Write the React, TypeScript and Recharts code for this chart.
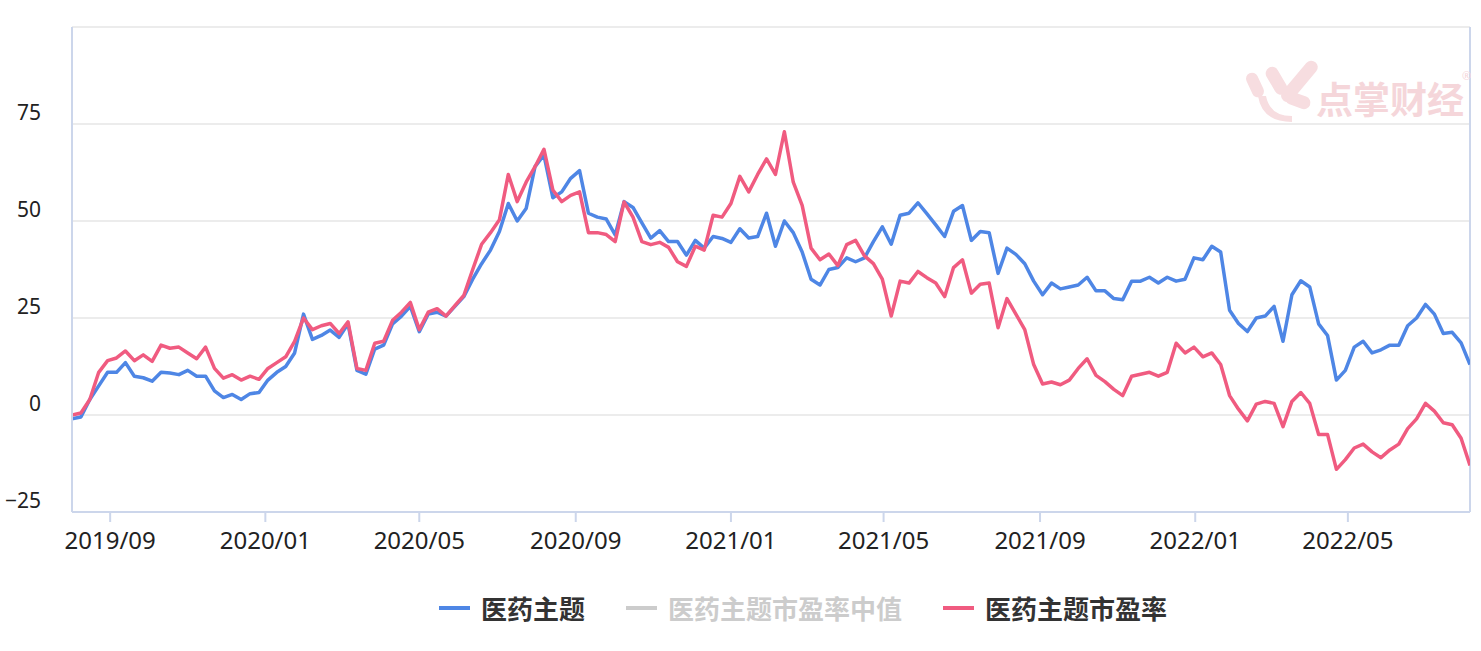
import { LineChart, Line, XAxis, YAxis, CartesianGrid, ReferenceLine } from "recharts";

// weekly samples, first point on 2019-08-02
const START = Date.UTC(2019, 7, 2);
const WEEK = 7 * 86400000;

const themeIndex = [
  -1, -0.5, 4, 7.5, 11, 11, 13.5, 10, 9.6, 8.7,
  11, 10.8, 10.4, 11.5, 10, 10, 6.2, 4.5, 5.3, 4,
  5.5, 5.8, 9, 11, 12.5, 16, 26, 19.5, 20.5, 21.9,
  20, 23.5, 11.5, 10.5, 17, 18, 23.5, 25.5, 28, 21.5,
  26, 26.5, 25.5, 28, 30.5, 35, 39, 42.5, 47.3, 54.5,
  50, 53.2, 64, 67, 56, 57.5, 61, 63, 52, 51,
  50.5, 46.4, 55, 53.5, 49.5, 45.6, 47.5, 44.7, 44.7, 41.2,
  45, 43, 46, 45.5, 44.5, 48, 45.6, 46, 52, 43.5,
  50, 47, 42, 35, 33.5, 37.5, 38, 40.5, 39.5, 40.5,
  44.7, 48.5, 44, 51.5, 52, 54.7, 51.9, 49, 46, 52.5,
  54, 45, 47.3, 47, 36.5, 43, 41.4, 39, 34.5, 31,
  34, 32.5, 33, 33.5, 35.5, 32, 32, 30, 29.7, 34.5,
  34.5, 35.5, 34, 35.5, 34.5, 35, 40.5, 40, 43.5, 42,
  27, 23.6, 21.5, 25, 25.5, 28, 19, 31, 34.6, 33,
  23.5, 20.5, 9, 11.5, 17.5, 19, 16, 16.8, 18, 18,
  23, 25, 28.5, 26, 21, 21.3, 18.6, 13,
];

const themePE = [
  0, 0.5, 4, 11, 14, 14.7, 16.5, 14, 15.5, 13.8,
  18, 17.2, 17.5, 16, 14.5, 17.5, 12, 9.5, 10.4, 9,
  10, 9.2, 12, 13.5, 15, 19, 25, 22, 23, 23.6,
  21, 24, 12, 11.5, 18.5, 19, 24.4, 26.5, 29, 22,
  26.5, 27.4, 25.5, 28.2, 30.8, 37.5, 44, 47, 50.3, 62,
  55, 60, 64, 68.5, 58, 55, 56.6, 57.5, 47, 47,
  46.5, 44.7, 54.9, 51, 44.7, 43.9, 44.5, 43.2, 39.5, 38.3,
  43.5, 42.5, 51.5, 51, 54.5, 61.5, 57.5, 62, 66, 62,
  73, 60, 54, 43, 40, 41.5, 38.5, 43.9, 45, 41,
  39, 35, 25.5, 34.5, 34, 37, 35.4, 34, 30.5, 38,
  40, 31.4, 33.7, 34, 22.5, 30, 26, 22, 13, 8,
  8.5, 7.8, 9, 12, 14.5, 10.2, 8.6, 6.6, 5, 10,
  10.5, 11, 10, 11, 18.5, 16, 17.5, 15, 16, 13,
  5, 1.5, -1.5, 2.8, 3.5, 3, -3, 3.5, 5.8, 3,
  -5, -5, -14, -11.5, -8.5, -7.5, -9.5, -11, -9, -7.5,
  -3.5, -1, 3, 1, -2, -2.5, -6, -13,
];

const monthTicks = ["2019/09", "2020/01", "2020/05", "2020/09", "2021/01", "2021/05", "2021/09", "2022/01", "2022/05"];
const yTicks = [-25, 0, 25, 50, 75, 100];

const legendItems = [
  { name: "医药主题", color: "#4e86e5", active: true },
  { name: "医药主题市盈率中值", color: "#cccccc", active: false },
  { name: "医药主题市盈率", color: "#f05b80", active: true },
];

const data = themeIndex.map((v, i) => ({ t: START + i * WEEK, index: v, pe: themePE[i] }));
const END = data[data.length - 1].t;

const tickTimes = monthTicks.map((s) => {
  const [y, m] = s.split("/").map(Number);
  return Date.UTC(y, m - 1, 1);
});

const fmtMonth = (t: number) => {
  const d = new Date(t);
  return `${d.getUTCFullYear()}/${String(d.getUTCMonth() + 1).padStart(2, "0")}`;
};

const YTick = (props: any) => {
  const { x, y, payload } = props;
  if (payload.value === 100) return null;
  const label = payload.value < 0 ? `\u2212${Math.abs(payload.value)}` : String(payload.value);
  return (
    <text x={x} y={y} dy={-4} textAnchor="end" fill="#222" fontSize={21} fontFamily="Noto Sans">
      {label}
    </text>
  );
};

const Watermark = () => (
  <svg width={1481} height={651} style={{ position: "absolute", left: 0, top: 0, pointerEvents: "none" }}>
    <g fill="#f7dde0">
      <rect x={1249} y={72} width={12} height={26} rx={6} transform="rotate(-25 1255 85)" />
      <rect x={1270} y={66} width={13} height={30} rx={6.5} transform="rotate(-30 1276 81)" />
      <rect x={1293} y={56} width={13} height={50} rx={6.5} transform="rotate(40 1299 81)" />
      <rect x={1285} y={94} width={26} height={13} rx={6.5} transform="rotate(20 1298 100)" />
      <path d="M1258 96 Q1262 122 1292 122 L1292 116 Q1270 116 1266 96 Z" />
    </g>
    <text x={1316} y={114} fontSize={37} fontWeight="bold" fill="#f5d6da" fontFamily="Noto Sans CJK SC">
      点掌财经
    </text>
    <text x={1462} y={80} fontSize={11} fill="#f5d6da" fontFamily="Noto Sans">®</text>
  </svg>
);

const Legend = () => (
  <div
    style={{
      position: "absolute",
      left: 439,
      top: 592,
      display: "flex",
      alignItems: "center",
      fontFamily: "'Noto Sans CJK SC', sans-serif",
      fontWeight: "bold",
      fontSize: 26,
      lineHeight: "32px",
      whiteSpace: "nowrap",
    }}
  >
    {legendItems.map((item) => (
      <div key={item.name} style={{ display: "flex", alignItems: "center", marginRight: 41 }}>
        <span style={{ display: "inline-block", width: 31, height: 4, background: item.color, marginRight: 11 }} />
        <span style={{ color: item.active ? "#333" : "#cccccc" }}>{item.name}</span>
      </div>
    ))}
  </div>
);

export default function App() {
  return (
    <div style={{ position: "absolute", left: 0, top: 0, width: 1481, height: 651, background: "#fff" }}>
      <LineChart width={1481} height={651} data={data} margin={{ top: 27, right: 11, bottom: 99, left: 0 }}>
        <CartesianGrid vertical={false} stroke="#e6e6e6" strokeWidth={1.5} />
        <XAxis
          dataKey="t"
          type="number"
          domain={[START, END]}
          ticks={tickTimes}
          tickFormatter={fmtMonth}
          allowDataOverflow
          height={40}
          tickSize={10}
          tickMargin={10}
          axisLine={{ stroke: "#ccd6eb", strokeWidth: 2 }}
          tickLine={{ stroke: "#ccd6eb", strokeWidth: 2 }}
          tick={{ fill: "#222", fontSize: 24, fontFamily: "Noto Sans" }}
        />
        <YAxis
          domain={[-25, 100]}
          ticks={yTicks}
          width={72}
          tickSize={0}
          tickMargin={31}
          tickLine={false}
          axisLine={{ stroke: "#ccd6eb", strokeWidth: 2 }}
          tick={<YTick />}
          interval={0}
        />
        <ReferenceLine x={END} stroke="#ccd6eb" strokeWidth={2} />
        <Line
          type="linear"
          dataKey="index"
          name="医药主题"
          stroke="#4e86e5"
          strokeWidth={3.5}
          strokeLinejoin="round"
          dot={false}
          isAnimationActive={false}
        />
        <Line
          type="linear"
          dataKey="pe"
          name="医药主题市盈率"
          stroke="#f05b80"
          strokeWidth={3.5}
          strokeLinejoin="round"
          dot={false}
          isAnimationActive={false}
        />
      </LineChart>
      <Watermark />
      <Legend />
    </div>
  );
}
